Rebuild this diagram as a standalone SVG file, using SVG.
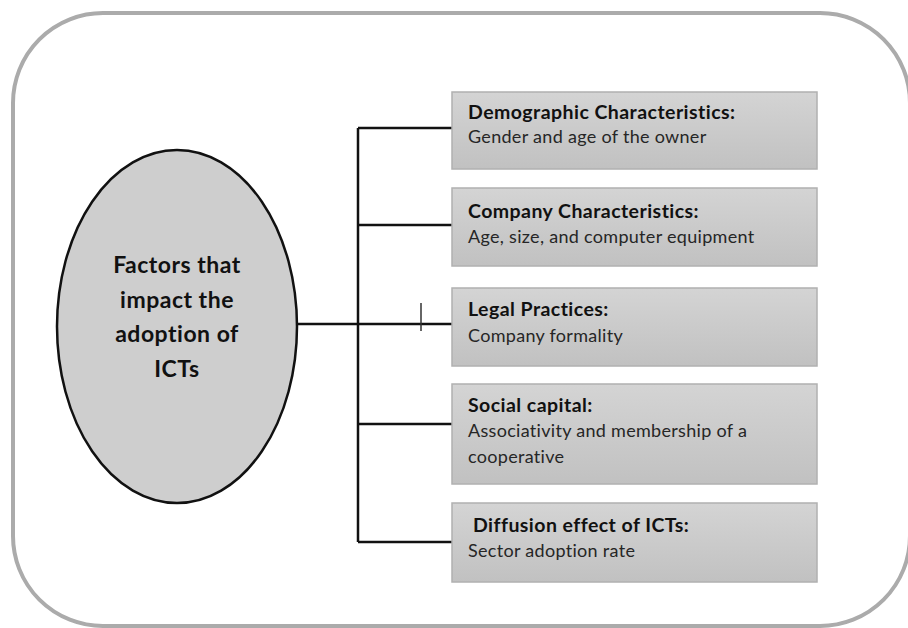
<svg xmlns="http://www.w3.org/2000/svg" width="908" height="628" viewBox="0 0 908 628">
  <defs>
    <linearGradient id="boxGrad" x1="0" y1="0" x2="0" y2="1">
      <stop offset="0" stop-color="#d4d4d4"/>
      <stop offset="1" stop-color="#c1c1c1"/>
    </linearGradient>
  </defs>
  <style>
    .frame { fill: #ffffff; stroke: #ababab; stroke-width: 4; }
    .box { fill: url(#boxGrad); stroke: #b0b0b0; stroke-width: 1.5; }
    .conn { fill: none; stroke: #111111; stroke-width: 2.5; }
    .tick { fill: none; stroke: #333333; stroke-width: 1.5; }
    .title { font-family: Lato, "Liberation Sans", sans-serif; font-weight: bold; font-size: 19.5px; letter-spacing: 0.45px; fill: #111111; }
    .body { font-family: Lato, "Liberation Sans", sans-serif; font-size: 18px; letter-spacing: 0.3px; fill: #262626; }
    .center { font-family: Lato, "Liberation Sans", sans-serif; font-weight: bold; font-size: 23px; letter-spacing: 0.5px; fill: #111111; text-anchor: middle; }
  </style>
  <rect width="908" height="628" fill="#ffffff"/>
  <rect class="frame" x="13" y="13" width="897" height="613" rx="90" ry="90"/>

  <g id="connectors">
    <path class="conn" d="M358 128 V542"/>
    <path class="conn" d="M358 128 H452"/>
    <path class="conn" d="M358 225 H452"/>
    <path class="conn" d="M297 324 H452"/>
    <path class="conn" d="M358 424 H452"/>
    <path class="conn" d="M358 542 H452"/>
    <path class="tick" d="M421 303 V331"/>
  </g>

  <g id="factors">
    <ellipse cx="177" cy="326.5" rx="120" ry="176.5" fill="#cecece" stroke="#111111" stroke-width="2.5"/>
    <text class="center" x="177" y="273">Factors that</text>
    <text class="center" x="177" y="308">impact the</text>
    <text class="center" x="177" y="342">adoption of</text>
    <text class="center" x="177" y="377">ICTs</text>
  </g>

  <g id="demographic">
    <rect class="box" x="452" y="92" width="365" height="77"/>
    <text class="title" x="468" y="119">Demographic Characteristics:</text>
    <text class="body" x="468" y="143">Gender and age of the owner</text>
  </g>

  <g id="company">
    <rect class="box" x="452" y="188" width="365" height="78"/>
    <text class="title" x="468" y="218">Company Characteristics:</text>
    <text class="body" x="468" y="243">Age, size, and computer equipment</text>
  </g>

  <g id="legal">
    <rect class="box" x="452" y="288" width="365" height="78"/>
    <text class="title" x="468" y="316">Legal Practices:</text>
    <text class="body" x="468" y="342">Company formality</text>
  </g>

  <g id="social">
    <rect class="box" x="452" y="384" width="365" height="100"/>
    <text class="title" x="468" y="412">Social capital:</text>
    <text class="body" x="468" y="437">Associativity and membership of a</text>
    <text class="body" x="468" y="463">cooperative</text>
  </g>

  <g id="diffusion">
    <rect class="box" x="452" y="503" width="365" height="79"/>
    <text class="title" x="473" y="532">Diffusion effect of ICTs:</text>
    <text class="body" x="468" y="557">Sector adoption rate</text>
  </g>
</svg>
